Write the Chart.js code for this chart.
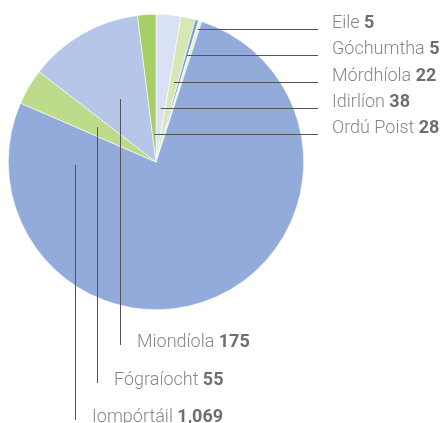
<!DOCTYPE html>
<html>
<head>
<meta charset="utf-8">
<script src="https://cdn.jsdelivr.net/npm/chart.js@4"></script>
<style>
html,body{margin:0;padding:0;background:#fff;}
#wrap{width:446px;height:423px;position:relative;}
</style>
</head>
<body>
<div id="wrap"><canvas id="c" width="446" height="423"></canvas></div>
<script>
// Data (clockwise from 12 o'clock)
const categories = ["Idirlíon", "Mórdhíola", "Góchumtha", "Eile", "Iompórtáil", "Fógraíocht", "Miondíola", "Ordú Poist"];
const values = [38, 22, 5, 5, 1069, 55, 175, 28];
const valueLabels = ["38", "22", "5", "5", "1,069", "55", "175", "28"];
const colors = ["#d9e2f5", "#d5e7b2", "#7b99d8", "#e7f1d6", "#93abdb", "#bedb8c", "#b5c6e9", "#a8cf66"];

// Label layout: right-side rows (horizontal leaders) and bottom rows (vertical leaders)
const labelLayout = [
  {cat: "Eile",       side: "right", y: 29},
  {cat: "Góchumtha",  side: "right", y: 55},
  {cat: "Mórdhíola",  side: "right", y: 82},
  {cat: "Idirlíon",   side: "right", y: 108},
  {cat: "Ordú Poist", side: "right", y: 134},
  {cat: "Miondíola",  side: "bottom", x: 120, baseline: 347},
  {cat: "Fógraíocht", side: "bottom", x: 97, baseline: 385},
  {cat: "Iompórtáil", side: "bottom", x: 75, baseline: 422, rayDeg: 268}
];

const leaderPlugin = {
  id: 'leaders',
  afterDraw(chart) {
    const ctx = chart.ctx;
    const meta = chart.getDatasetMeta(0);
    ctx.save();
    labelLayout.forEach(l => {
      const i = categories.indexOf(l.cat);
      const arc = meta.data[i];
      const cx = arc.x, cy = arc.y;
      let mid = (arc.startAngle + arc.endAngle) / 2; // canvas radians
      if (l.rayDeg !== undefined) mid = (l.rayDeg - 90) * Math.PI / 180;
      const dx = Math.cos(mid), dy = Math.sin(mid);
      ctx.strokeStyle = "#555";
      ctx.lineWidth = 1;
      ctx.beginPath();
      let tx, ty;
      if (l.side === "right") {
        const t = (l.y - cy) / dy;
        const sx = cx + dx * t;
        ctx.moveTo(sx, l.y + 0.5);
        ctx.lineTo(318, l.y + 0.5);
        tx = 332; ty = l.y - 1;
      } else {
        const t = (l.x - cx) / dx;
        const sy = cy + dy * t;
        ctx.moveTo(l.x + 0.5, sy);
        ctx.lineTo(l.x + 0.5, l.baseline - 2);
        tx = l.x + 17; ty = l.baseline;
      }
      ctx.stroke();
      ctx.textBaseline = "alphabetic";
      ctx.textAlign = "left";
      ctx.font = "300 18px Roboto, 'Liberation Sans', sans-serif";
      ctx.fillStyle = "#878787";
      const name = l.cat + " ";
      ctx.fillText(name, tx, ty);
      const w = ctx.measureText(name).width;
      ctx.font = "bold 18px Roboto, 'Liberation Sans', sans-serif";
      ctx.fillStyle = "#6e6e6e";
      ctx.fillText(valueLabels[i], tx + w, ty);
    });
    ctx.restore();
  }
};

new Chart(document.getElementById('c'), {
  type: 'pie',
  data: {
    labels: categories,
    datasets: [{
      data: values,
      backgroundColor: colors,
      borderColor: "#ffffff",
      borderWidth: 0.6
    }]
  },
  options: {
    responsive: false,
    animation: false,
    rotation: 0,
    layout: {padding: {left: 8, top: 14, right: 142, bottom: 113}},
    plugins: {legend: {display: false}, tooltip: {enabled: false}}
  },
  plugins: [leaderPlugin]
});
</script>
</body>
</html>
